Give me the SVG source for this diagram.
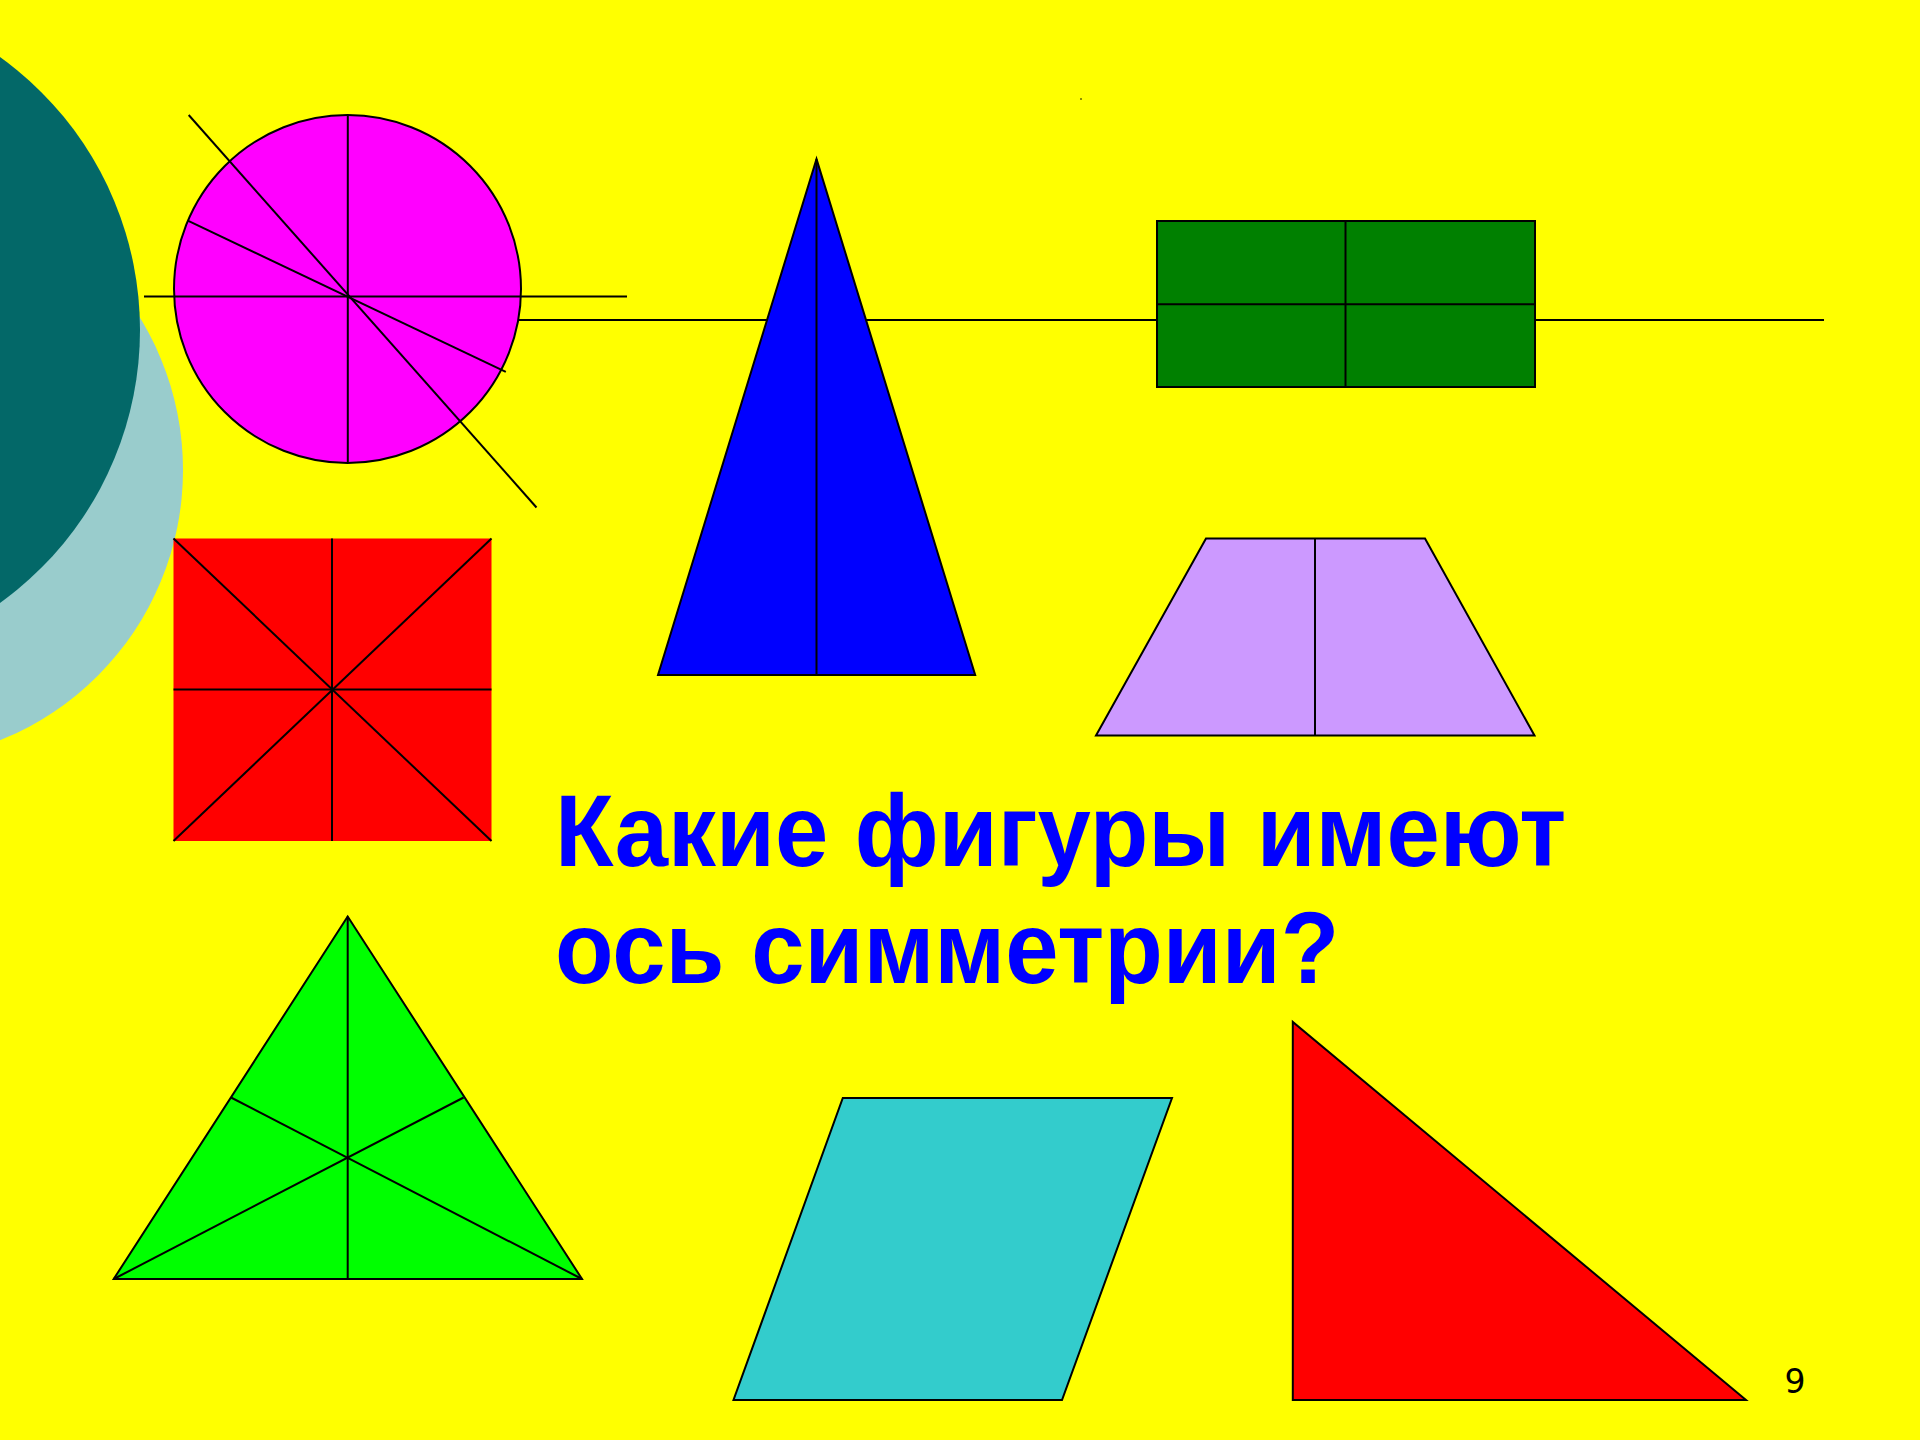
<svg xmlns="http://www.w3.org/2000/svg" width="1920" height="1440" viewBox="0 0 1920 1440">
<style>
.ln{stroke:#000;stroke-width:2;fill:none;stroke-linecap:butt}
.sh{stroke:#000;stroke-width:2;stroke-linejoin:miter}
.title{font-family:"Liberation Sans",Arial,sans-serif;font-weight:bold;font-size:102px;fill:#0000FF}
.num{font-family:"DejaVu Sans",Verdana,sans-serif;font-size:33px;fill:#000}
</style>
<rect width="1920" height="1440" fill="#FFFF00"/>
<g id="background-circles">
<circle cx="-108" cy="470" r="291" fill="#99CCCC"/>
<circle cx="-196" cy="330" r="336" fill="#036868"/>
</g>
<g id="connectors">
<line class="ln" x1="500" y1="320" x2="1824" y2="320"/>
</g>
<g id="circle">
<ellipse class="sh" cx="347.5" cy="289" rx="173.5" ry="174" fill="#FF00FF"/>
<line class="ln" x1="347.8" y1="115" x2="347.8" y2="463"/>
<line class="ln" x1="144" y1="296.5" x2="627" y2="296.5"/>
<line class="ln" x1="188.7" y1="115" x2="536.5" y2="507.5"/>
<line class="ln" x1="187.8" y1="220.7" x2="505.8" y2="371.8"/>
</g>
<g id="isosceles-triangle">
<polygon class="sh" points="816.5,159 658,675 975.2,675" fill="#0000FF"/>
<line class="ln" x1="816.5" y1="159" x2="816.5" y2="675"/>
</g>
<g id="rectangle">
<rect class="sh" x="1157" y="221" width="378" height="166" fill="#008000" stroke-width="2.5"/>
<line class="ln" x1="1345.5" y1="221" x2="1345.5" y2="387"/>
<line class="ln" x1="1157" y1="304.3" x2="1535" y2="304.3"/>
</g>
<g id="trapezoid">
<polygon class="sh" points="1206,538.5 1425,538.5 1534.5,735.5 1096,735.5" fill="#CC99FF"/>
<line class="ln" x1="1315" y1="538.5" x2="1315" y2="735.5"/>
</g>
<g id="square">
<rect x="173.5" y="538.5" width="318" height="302.5" fill="#FF0000"/>
<line class="ln" x1="332" y1="538.5" x2="332" y2="841"/>
<line class="ln" x1="173.5" y1="689.5" x2="491.5" y2="689.5"/>
<line class="ln" x1="173.5" y1="538.5" x2="491.5" y2="841"/>
<line class="ln" x1="491.5" y1="538.5" x2="173.5" y2="841"/>
</g>
<g id="equilateral-triangle">
<polygon class="sh" points="347.7,916.5 113.7,1279 582,1279" fill="#00FF00"/>
<line class="ln" x1="347.7" y1="916.5" x2="347.7" y2="1279"/>
<line class="ln" x1="113.7" y1="1279" x2="463.6" y2="1097.5"/>
<line class="ln" x1="582" y1="1279" x2="231" y2="1097.5"/>
</g>
<g id="parallelogram">
<polygon class="sh" points="842.8,1098 1172,1098 1062,1400 733.5,1400" fill="#33CCCC"/>
</g>
<g id="right-triangle">
<polygon class="sh" points="1292.8,1022 1292.8,1400 1746,1400" fill="#FF0000"/>
</g>
<g id="title">
<text class="title" transform="matrix(0.94 0 0 1 555 866)" x="0" y="0">Какие фигуры имеют</text>
<text class="title" transform="matrix(0.94 0 0 1 555 983)" x="0" y="0">ось симметрии?</text>
</g>
<g id="page-number">
<text class="num" x="1795" y="1393" text-anchor="middle">9</text>
</g>
<circle cx="1081" cy="99" r="0.8" fill="#000"/>
</svg>
